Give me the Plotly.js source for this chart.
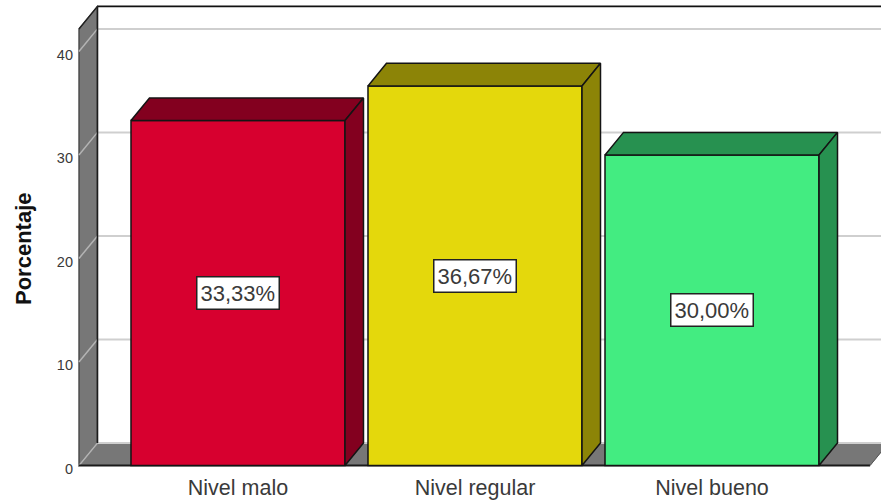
<!DOCTYPE html>
<html>
<head>
<meta charset="utf-8">
<script src="https://cdn.plot.ly/plotly-3.0.1.min.js"></script>
<style>html,body{margin:0;padding:0;background:#fff;overflow:hidden}</style>
</head>
<body>
<div id="chart" style="width:881px;height:503px"></div>
<script>
// Nivel percentages shown as a pseudo-3D column chart
const categories = ["Nivel malo", "Nivel regular", "Nivel bueno"];
const percentages = [33.33, 36.67, 30.00];
const frontColors = ["#d7002f", "#e4d80c", "#43ec81"];
const shadeColors = ["#83001f", "#8c8407", "#279150"];
const gridValues = [0, 10, 20, 30, 40];

// Extrusion depth, column width and axis extents, in axis units
const depthX = 0.078;
const depthY = 2.18;
const barWidth = 0.903;
const xMin = -0.6835, xMax = 2.713;
const yMin = -0.34, yMax = 44.97;
const wallX = -0.671, floorEnd = 2.667;
const wallTop = 42.17;

const path = pts => "M" + pts.map(p => p[0] + "," + p[1]).join("L") + "Z";
const poly = (pts, fill, color, width) => ({
  type: "path", layer: "below", xref: "x", yref: "y", path: path(pts),
  fillcolor: fill, line: {color: color, width: width}
});
const seg = (x0, y0, x1, y1, color, width) => ({
  type: "line", layer: "below", xref: "x", yref: "y",
  x0: x0, y0: y0, x1: x1, y1: y1, line: {color: color, width: width}
});

const backX = wallX + depthX;
const shapes = [
  // side wall and floor
  poly([[wallX, 0], [backX, depthY], [backX, wallTop + depthY], [wallX, wallTop]], "#777777", "#3a3a3a", 1.2),
  poly([[wallX, 0], [backX, depthY], [floorEnd + depthX, depthY], [floorEnd, 0]], "#777777", "#777777", 0.5)
];
// gridlines on the back plane, continued diagonally over the wall
gridValues.forEach(v => {
  shapes.push(seg(backX, v + depthY, xMax, v + depthY, "#cfcfcf", 2));
  shapes.push(seg(wallX, v, backX, v + depthY, "#b4b4b4", 1.5));
});
shapes.push(seg(backX, depthY, backX, wallTop + depthY, "#1c1c1c", 1.6));
shapes.push(seg(backX, wallTop + depthY, xMax, wallTop + depthY, "#111111", 1.6));
shapes.push(seg(wallX, wallTop, backX, wallTop + depthY, "#222222", 1.4));
shapes.push(seg(wallX, 0, floorEnd, 0, "#1a1a1a", 2));
shapes.push(seg(floorEnd, 0, floorEnd + depthX, depthY, "#555555", 1));

const traces = [{
  type: "bar",
  x: categories.map((c, i) => i),
  y: percentages,
  width: barWidth,
  marker: {color: frontColors, line: {color: "#141414", width: 1.5}},
  hoverinfo: "skip"
}];

// top and right faces of each column
percentages.forEach((v, i) => {
  const l = i - barWidth / 2, r = i + barWidth / 2;
  const face = pts => ({
    type: "scatter", mode: "lines", fill: "toself",
    x: pts.map(p => p[0]), y: pts.map(p => p[1]),
    fillcolor: shadeColors[i], line: {color: "#141414", width: 1.5},
    hoverinfo: "skip"
  });
  traces.push(face([[l, v], [l + depthX, v + depthY], [r + depthX, v + depthY], [r, v], [l, v]]));
  traces.push(face([[r, 0], [r + depthX, depthY], [r + depthX, v + depthY], [r, v], [r, 0]]));
});

const annotations = percentages.map((v, i) => ({
  x: i, y: v / 2, xref: "x", yref: "y",
  text: v.toFixed(2).replace(".", ",") + "%",
  showarrow: false,
  font: {family: "Liberation Sans, Arial, sans-serif", size: 22, color: "#3a3a3a"},
  bgcolor: "#ffffff", bordercolor: "#222222", borderwidth: 1.5, borderpad: 3
}));

// vertical axis title, placed beside the wall
annotations.push({
  xref: "paper", yref: "paper", x: -0.0653, y: 0.47,
  text: "<b>Porcentaje</b>", textangle: -90, showarrow: false,
  xanchor: "center", yanchor: "middle",
  font: {family: "Liberation Sans, Arial, sans-serif", size: 22, color: "#111111"}
});

const layout = {
  width: 881, height: 503,
  margin: {l: 76, r: 0, t: 0, b: 34, pad: 0},
  paper_bgcolor: "#ffffff", plot_bgcolor: "#ffffff",
  showlegend: false, bargap: 0,
  font: {family: "Liberation Sans, Arial, sans-serif", color: "#333333"},
  xaxis: {
    type: "linear", range: [xMin, xMax], tickmode: "array",
    tickvals: categories.map((c, i) => i), ticktext: categories,
    showgrid: false, zeroline: false, showline: false, ticks: "",
    tickfont: {size: 21.5, color: "#3a3a3a"}, ticklabelstandoff: 3
  },
  yaxis: {
    range: [yMin, yMax], tickmode: "array", tickvals: gridValues,
    showgrid: false, zeroline: false, showline: false, ticks: "",
    tickfont: {size: 14.5, color: "#3a3a3a"}, ticklabelshift: 3, ticklabelstandoff: 2
  },
  shapes: shapes,
  annotations: annotations
};

Plotly.newPlot("chart", traces, layout, {displayModeBar: false, staticPlot: true});
</script>
</body>
</html>
